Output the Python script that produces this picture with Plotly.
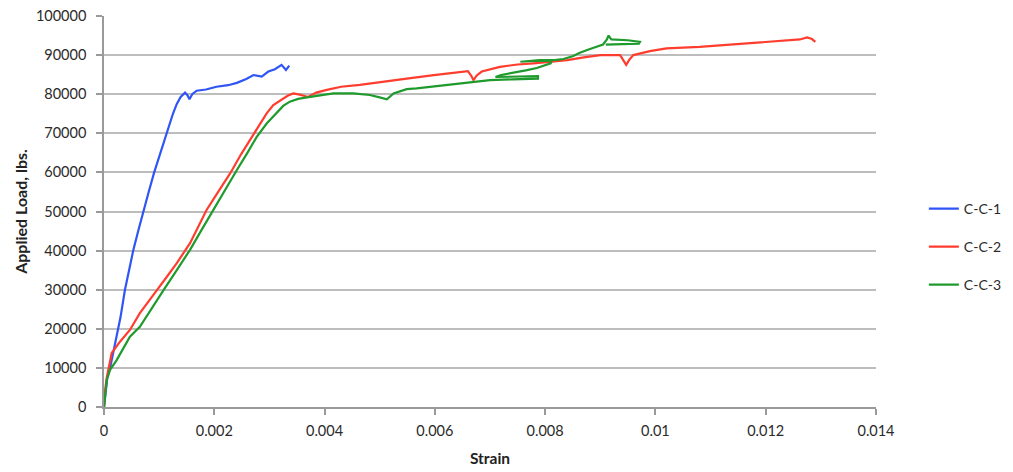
import plotly.graph_objects as go

# ---- data ----
cc1_strain = [0, 0.00003, 0.00006, 0.00011, 0.00017, 0.00023, 0.00030, 0.00038, 0.00045, 0.00053,
              0.00062, 0.00071, 0.00081, 0.00091, 0.00102, 0.00114, 0.00125, 0.00132, 0.00139, 0.00147,
              0.00151, 0.00155, 0.00160, 0.00168, 0.00185, 0.00204, 0.00225, 0.00241, 0.00258, 0.00271,
              0.00286, 0.00298, 0.00310, 0.00322, 0.00330, 0.00336]
cc1_load = [0, 4000, 7500, 10000, 14000, 17900, 23000, 30000, 35000, 40000,
            45000, 50000, 55000, 60000, 65000, 70000, 75000, 77500, 79300, 80400,
            79800, 78700, 80000, 80900, 81200, 81900, 82300, 82900, 83900, 84900,
            84500, 85800, 86400, 87500, 86200, 87300]

cc2_strain = [0, 0.00002, 0.00005, 0.00008, 0.00014, 0.00029, 0.00047, 0.00065, 0.00080, 0.00096,
              0.00115, 0.00132, 0.00156, 0.00170, 0.00186, 0.00207, 0.00229, 0.00248, 0.00265, 0.00280,
              0.00295, 0.00307, 0.00319, 0.00333, 0.00343, 0.00355, 0.00370, 0.00385, 0.00404, 0.00430,
              0.00464, 0.00507, 0.00549, 0.00598, 0.00640, 0.00660, 0.00666, 0.00670, 0.00676, 0.00685,
              0.00718, 0.00750, 0.00779, 0.00810, 0.00840, 0.00870, 0.00900, 0.00936, 0.00942, 0.00947,
              0.00953, 0.00960, 0.00990, 0.01020, 0.01080, 0.01141, 0.01202, 0.01262, 0.01275, 0.01284,
              0.01290]
cc2_load = [0, 4300, 7500, 9500, 13800, 16700, 19700, 24000, 27000, 29900,
            33500, 36800, 41900, 46000, 50400, 55000, 59800, 64500, 68300, 72000,
            75100, 77200, 78400, 79600, 80200, 79900, 79300, 80400, 81100, 81900,
            82400, 83300, 84000, 84900, 85500, 85900, 84700, 83600, 84800, 85800,
            87000, 87600, 87900, 88300, 88700, 89400, 90000, 90000, 88800, 87500,
            88900, 90000, 91000, 91700, 92100, 92800, 93400, 94000, 94500, 94100,
            93400]

cc3_strain = [0, 0.00002, 0.00005, 0.00011, 0.00023, 0.00035, 0.00047, 0.00065, 0.00085, 0.00108,
              0.00132, 0.00156, 0.00177, 0.00198, 0.00220, 0.00241, 0.00260, 0.00277, 0.00295, 0.00313,
              0.00325, 0.00337, 0.00352, 0.00368, 0.00398, 0.00416, 0.00452, 0.00482, 0.00500, 0.00513,
              0.00525, 0.00549, 0.00567, 0.00600, 0.00628, 0.00670, 0.00700, 0.00740, 0.00787, 0.00787,
              0.00750, 0.00710, 0.00720, 0.00745, 0.00765, 0.00785, 0.00810, 0.00812, 0.00780, 0.00755,
              0.00790, 0.00820, 0.00833, 0.00850, 0.00863, 0.00880, 0.00905, 0.00912, 0.00915, 0.00920,
              0.00950, 0.00972, 0.00970, 0.00940, 0.00910]
cc3_load = [0, 2500, 6900, 9500, 12000, 15000, 18000, 20500, 25000, 29900,
            35000, 40200, 45300, 50400, 55500, 60600, 65000, 69100, 72500, 75100,
            77000, 78100, 78800, 79200, 79800, 80200, 80200, 79800, 79200, 78700,
            80200, 81300, 81500, 82000, 82400, 83200, 83600, 83800, 84000, 84600,
            84500, 84400, 84900, 85500, 86100, 86700, 87900, 88500, 88500, 88300,
            88700, 88800, 89000, 89700, 90600, 91500, 92700, 94000, 95000, 94000,
            93800, 93400, 92900, 92800, 92700]

series_names = ["C-C-1", "C-C-2", "C-C-3"]
series_colors = ["#2F55F5", "#FF3D2E", "#1F9A2C"]

x_tickvals = [0, 0.002, 0.004, 0.006, 0.008, 0.010, 0.012, 0.014]
x_ticktext = ["0", "0.002", "0.004", "0.006", "0.008", "0.01", "0.012", "0.014"]
y_tickvals = [0, 10000, 20000, 30000, 40000, 50000, 60000, 70000, 80000, 90000, 100000]
y_ticktext = [str(v) for v in y_tickvals]

FONT = "Lato, 'Open Sans', Arial, sans-serif"

fig = go.Figure()
data = [(cc1_strain, cc1_load), (cc2_strain, cc2_load), (cc3_strain, cc3_load)]
legend_ids = ["legend", "legend2", "legend3"]
for (xs, ys), name, col, lg in zip(data, series_names, series_colors, legend_ids):
    fig.add_trace(go.Scatter(x=xs, y=ys, mode="lines", name=name,
                             line=dict(color=col, width=2.2), legend=lg))

axis_common = dict(showline=True, linecolor="#9a9a9a", linewidth=1.5,
                   ticks="outside", ticklen=6, tickcolor="#9a9a9a", tickwidth=1.5,
                   tickfont=dict(family=FONT, size=14.5, color="#2a2a2a"),
                   zeroline=False, automargin=False)

W, H = 1013, 472
fig.update_layout(
    width=W, height=H,
    margin=dict(l=104, r=137, t=16, b=65, autoexpand=False),
    paper_bgcolor="white", plot_bgcolor="white",
    font=dict(family=FONT, color="#222222"),
    xaxis=dict(range=[0, 0.014], tickvals=x_tickvals, ticktext=x_ticktext,
               showgrid=False, ticklabelstandoff=4,
               title=dict(text="<b>Strain</b>", font=dict(family=FONT, size=15.5, color="#222222"), standoff=15),
               **axis_common),
    yaxis=dict(range=[0, 100000], tickvals=y_tickvals, ticktext=y_ticktext,
               showgrid=True, gridcolor="#bdbdbd", gridwidth=1.5, ticklabelstandoff=7,
               title=dict(text="<b>Applied Load, lbs.</b>", font=dict(family=FONT, size=16, color="#222222"), standoff=4),
               **axis_common),
    showlegend=True,
)

legend_style = dict(xanchor="left", yanchor="middle", bgcolor="rgba(0,0,0,0)",
                    font=dict(family=FONT, size=14, color="#2a2a2a"), itemwidth=30)
legend_y_px = [209, 247, 285]
for lg, ypx in zip(legend_ids, legend_y_px):
    yp = (407 - ypx) / (407 - 16)
    fig.update_layout({lg: dict(x=1.062, y=yp, **legend_style)})

# remove the default 8px page margin so the figure sits at the window origin
fig.write_html("out.html", config={"displayModeBar": False},
               post_script="document.body.style.margin='0';")
